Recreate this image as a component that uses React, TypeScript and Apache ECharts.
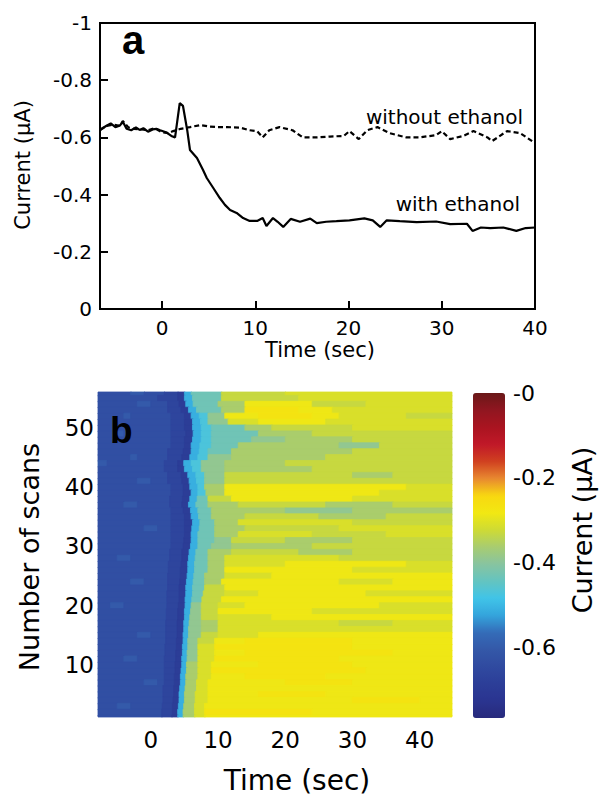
import React, { useEffect, useRef } from "react";
import * as echarts from "echarts";

// ---------- Panel a: current vs time ----------
const withEthanolTime = [
  -6.65, -6.0, -5.5, -5.0, -4.5, -4.2, -3.8, -3.3, -2.8, -2.4, -2.0, -1.5, -1.0, -0.6, -0.2, 0.5, 1.0, 1.4,
  1.9, 2.25, 2.7, 3.0, 3.75, 4.4, 4.8, 5.5, 6.2, 6.75, 7.3, 8.0, 8.7, 9.4, 10.2, 10.8, 11.2, 11.9, 12.4,
  13.0, 13.8, 14.8, 15.9, 16.6, 17.6, 18.7, 20.1, 21.7, 22.6, 23.4, 24.1, 25.5, 27.3, 29.4, 30.9, 32.7,
  33.3, 34.2, 35.2, 36.6, 38.0, 39.0, 40.0,
];
const withEthanolCurrent = [
  -0.626, -0.64, -0.649, -0.636, -0.642, -0.655, -0.63, -0.625, -0.635, -0.626, -0.632, -0.62, -0.628, -0.63,
  -0.625, -0.617, -0.605, -0.6, -0.72, -0.71, -0.626, -0.556, -0.528, -0.486, -0.458, -0.423, -0.388, -0.364,
  -0.346, -0.336, -0.318, -0.308, -0.308, -0.318, -0.29, -0.318, -0.305, -0.287, -0.315, -0.305, -0.316, -0.3,
  -0.305, -0.307, -0.31, -0.317, -0.31, -0.287, -0.31, -0.307, -0.304, -0.306, -0.297, -0.298, -0.273, -0.285,
  -0.283, -0.285, -0.273, -0.283, -0.285,
];
const withoutEthanolTime = [
  -6.65, -6.0, -5.2, -4.5, -4.2, -3.6, -3.0, -2.2, -1.5, -0.8, 0, 0.7, 1.2, 2.0, 3.0, 4.1, 5.1, 6.0, 7.0, 8.4,
  9.4, 10.2, 10.8, 11.5, 12.6, 14.0, 15.1, 16.6, 18.0, 19.5, 20.1, 21.1, 22.0, 23.1, 24.4, 26.2, 27.6, 29.4,
  30.0, 30.9, 32.3, 33.4, 34.9, 35.4, 37.0, 38.4, 39.7, 40,
];
const withoutEthanolCurrent = [
  -0.626, -0.64, -0.645, -0.64, -0.657, -0.635, -0.63, -0.628, -0.625, -0.632, -0.618, -0.615, -0.622, -0.63,
  -0.636, -0.643, -0.638, -0.636, -0.636, -0.634, -0.625, -0.622, -0.6, -0.625, -0.636, -0.625, -0.6, -0.6,
  -0.603, -0.605, -0.622, -0.594, -0.625, -0.636, -0.615, -0.6, -0.6, -0.608, -0.622, -0.594, -0.605, -0.622,
  -0.6, -0.587, -0.622, -0.615, -0.587, -0.59,
];
const topTimeTicks = [0, 10, 20, 30, 40];

// ---------- Panel b: scans heat map ----------
const heatTimeTicks = [0, 10, 20, 30, 40];
const scanTicks = [10, 20, 30, 40, 50];
const colorbarTicks = [-0.6, -0.4, -0.2, 0];

// current level (µA) of each colour code
const levelCodes: Record<string, number> = {
  "0": -0.69, "1": -0.66, "2": -0.63, "3": -0.6, "4": -0.56, "5": -0.51, "6": -0.47,
  "7": -0.43, "8": -0.39, "9": -0.36, a: -0.33, b: -0.31, c: -0.285, d: -0.27,
};

// each row = one scan, from scan 56 (top) to scan 1 (bottom); "code:endTime" runs
const scanRows = [
  "2:-3 3:-1 2:2 1:4 0:5 5:6 7:10.5 a:20 b:45",
  "2:1 1:4 0:5 5:6.2 7:10.5 a:22 b:45",
  "2:-2 3:0 2:2.5 1:4.2 0:5.2 5:6.3 7:10 9:14 c:24 a:32 b:45",
  "2:2.5 1:4.5 0:5.6 5:6.8 7:10.5 9:14 d:22 c:27 b:45",
  "2:-4 3:-3 2:3 1:5 0:6 5:7.2 6:8.5 8:11 c:16 d:24 c:28 b:38 a:45",
  "2:3 1:5 0:6.2 5:7.4 6:8.5 8:11.5 b:16 c:26 b:45",
  "2:3 1:5 0:6.2 5:7.5 6:9 7:14 9:18 a:30 b:45",
  "2:-5 3:-4 2:3 1:5.2 0:6.3 5:7.5 6:9 7:16 9:24 a:45",
  "2:3 1:5 0:6.2 5:7.5 6:9 7:15 8:20 9:30 a:45",
  "2:3 1:5 0:6 5:7.3 6:9 7:13 9:28 8:34 a:45",
  "2:2.5 1:4.8 0:6 5:7.2 6:8.5 7:12 9:30 a:45",
  "2:-3 3:-2 2:2.5 1:4.6 0:5.8 5:7 6:8.5 8:12 9:26 a:45",
  "3:-6.5 2:2 1:4 0:4.9 5:6 6:7.5 8:11 9:20 a:45",
  "2:2 1:4 0:5 5:6.2 6:7.5 8:11 9:24 a:45",
  "2:2.5 1:4.5 0:5.5 5:6.7 6:8 8:11 a:30 9:36 a:45",
  "2:-2 3:0 2:2.5 1:4.6 0:5.7 5:6.8 6:8 8:11 a:45",
  "2:3 1:4.8 0:5.8 5:7 6:8 9:11 c:38 b:45",
  "2:3 1:4.8 0:6 5:7 6:8.2 9:11 c:34 b:45",
  "2:2.8 1:4.7 0:5.8 5:6.9 7:8.5 a:12 c:30 b:45",
  "2:-4 3:-2 2:2.8 1:4.6 0:5.6 5:6.7 7:8.5 9:13 a:26 9:36 a:45",
  "2:3 1:4.8 0:5.9 5:7 7:9 9:20 8:30 9:45",
  "2:3 1:5 0:6 5:7.1 7:9 9:14 a:25 9:35 a:45",
  "2:3 1:5 0:6.2 5:7.3 7:9.5 9:13 b:30 a:45",
  "2:-1 3:1 2:3 1:5 0:6.1 5:7.2 7:9.5 9:14 a:28 b:45",
  "2:3 1:5 0:6 5:7 7:9.5 9:13 b:24 a:35 b:45",
  "2:3 1:4.9 0:6 5:7 7:9.5 8:12 a:20 9:30 a:45",
  "2:3 1:4.8 0:5.9 5:7 7:9 8:12 9:24 a:45",
  "2:2.8 1:4.6 0:5.7 5:6.7 7:8.5 9:12 a:22 9:30 a:45",
  "2:-5 3:-3 2:2.8 1:4.6 0:5.6 5:6.6 7:8.5 9:11 b:28 a:45",
  "2:2.6 1:4.5 0:5.5 5:6.5 7:8.5 9:11 b:20 c:38 b:45",
  "2:2.6 1:4.4 0:5.5 5:6.5 7:8.5 9:11 c:30 b:45",
  "2:2.5 1:4.4 0:5.4 5:6.4 7:8 9:11 b:18 c:45",
  "2:-3 3:-1 2:2.5 1:4.3 0:5.3 5:6.3 7:8 9:10.5 c:28 b:36 c:45",
  "2:2.5 1:4.2 0:5.2 5:6.2 7:8 a:11 c:45",
  "2:2.4 1:4.2 0:5.2 5:6.2 7:7.8 a:11 b:16 c:32 b:45",
  "2:2.4 1:4.2 0:5.1 5:6.1 7:7.6 a:10.5 c:45",
  "2:-6 3:-4 2:2.4 1:4.1 0:5.1 5:6 8:7.5 a:10 b:14 c:34 b:45",
  "2:2.3 1:4 0:5 5:5.9 8:7.5 a:10 c:24 b:45",
  "2:2.3 1:4 0:5 5:5.8 8:7.5 a:10 b:18 c:45",
  "2:2.2 1:3.9 0:4.9 5:5.7 8:7.5 9:10 b:28 a:36 b:45",
  "2:2.2 1:3.9 0:4.9 5:5.6 8:7.5 9:10 b:45",
  "2:-2 3:0 2:2.2 1:3.9 0:4.8 5:5.6 8:7.5 a:10 b:16 c:45",
  "2:2.2 1:3.8 0:4.8 5:5.5 8:7 a:9.5 c:14 d:30 c:45",
  "2:2.1 1:3.8 0:4.7 5:5.5 8:7 b:9.5 d:30 c:45",
  "2:2.1 1:3.7 0:4.7 5:5.4 8:7 b:9.5 c:14 d:36 c:45",
  "2:-4 3:-2 2:2 1:3.7 0:4.6 5:5.4 8:7 b:9.5 d:28 c:45",
  "2:2 1:3.6 0:4.6 5:5.3 9:7 b:9 c:16 d:30 c:45",
  "2:2 1:3.6 0:4.5 5:5.3 9:7 b:9 d:32 c:45",
  "2:2 1:3.5 0:4.4 5:5.2 9:7 b:9 c:14 d:26 c:45",
  "2:-1 3:1 2:2 1:3.5 0:4.4 5:5.2 9:6.8 b:8.5 c:20 d:30 c:45",
  "2:1.8 1:3.4 0:4.3 5:5.1 9:6.8 b:8.5 c:45",
  "2:1.8 1:3.4 0:4.2 5:5 9:6.6 b:8.5 c:16 d:26 c:45",
  "2:1.8 1:3.3 0:4.2 5:5 9:6.6 b:8.5 c:30 d:40 c:45",
  "2:-5 3:-3 2:1.7 1:3.2 0:4.1 5:4.9 9:6.5 b:8 c:45",
  "2:1.6 1:3.2 0:4 5:4.8 9:6.5 b:8 d:24 c:45",
  "2:1.6 1:3.1 0:4 5:4.8 9:6.5 b:8 c:45",
];
const heatStartTime = -7.85;

// colour scale from -0.765 (bottom) to 0 (top)
const colorScale = [
  "#282a7c", "#2a3490", "#2c3e98", "#304aa0", "#3458a8", "#346cb8", "#34a4dc", "#40c4e8",
  "#64c4c0", "#88c4a0", "#a8cc70", "#cedb34", "#f2e812", "#f8d810", "#e88830", "#d04020",
  "#c01828", "#aa1420", "#901620", "#6a1818",
];

const FONT = "DejaVu Sans";

function buildHeatData() {
  const out: number[][] = [];
  scanRows.forEach((row, i) => {
    const scan = scanRows.length - i;
    let start = heatStartTime;
    row.split(" ").forEach((tok) => {
      const [code, endStr] = tok.split(":");
      const end = parseFloat(endStr);
      out.push([start, end, scan, levelCodes[code]]);
      start = end;
    });
  });
  return out;
}

const fmtTop = (v: number) => {
  if (Math.abs(v) < 1e-9) return "0";
  if (Math.abs(v + 1) < 1e-9) return "-1";
  return v.toFixed(1);
};
const fmtBar = (v: number) => (Math.abs(v) < 1e-9 ? "-0" : v.toFixed(1));

export default function App() {
  const ref = useRef<HTMLDivElement>(null);
  useEffect(() => {
    if (!ref.current) return;
    const chart = echarts.init(ref.current, undefined, { renderer: "svg" });
    const heatData = buildHeatData();
    const black = "#000";
    const option: any = {
      animation: false,
      textStyle: { fontFamily: FONT, color: black },
      grid: [
        { left: 100, top: 23, width: 435, height: 286, show: true, borderColor: black, borderWidth: 2, backgroundColor: "transparent", outerBoundsMode: "none" },
        { left: 98, top: 392, width: 354, height: 325, outerBoundsMode: "none" },
        { left: 473, top: 393, width: 32, height: 325, outerBoundsMode: "none" },
      ],
      xAxis: [
        {
          gridIndex: 0, type: "value", min: -6.65, max: 40,
          splitLine: { show: false },
          axisLine: { show: true, onZero: false, lineStyle: { color: black, width: 2 } },
          axisTick: { show: true, inside: true, length: 8, customValues: topTimeTicks, lineStyle: { color: black, width: 2 } },
          axisLabel: { customValues: topTimeTicks, color: black, fontSize: 20, margin: 9, fontFamily: FONT },
        },
        {
          gridIndex: 1, type: "value", min: heatStartTime, max: 44.8,
          splitLine: { show: false }, axisLine: { show: false }, axisTick: { show: false },
          axisLabel: { customValues: heatTimeTicks, color: black, fontSize: 23, margin: 11, fontFamily: FONT },
        },
        { gridIndex: 2, type: "value", show: false, min: 0, max: 1 },
      ],
      yAxis: [
        {
          gridIndex: 0, type: "value", inverse: true, min: -1, max: 0, interval: 0.2,
          splitLine: { show: false },
          axisLine: { show: true, onZero: false, lineStyle: { color: black, width: 2 } },
          axisTick: { show: true, inside: true, length: 8, lineStyle: { color: black, width: 2 } },
          axisLabel: { formatter: fmtTop, color: black, fontSize: 20, margin: 8, fontFamily: FONT },
        },
        {
          gridIndex: 1, type: "value", min: 1.2, max: 56.07,
          splitLine: { show: false }, axisLine: { show: false }, axisTick: { show: false },
          axisLabel: { customValues: scanTicks, color: black, fontSize: 23, margin: 4, fontFamily: FONT },
        },
        {
          gridIndex: 2, type: "value", position: "right", min: -0.765, max: 0,
          splitLine: { show: false }, axisLine: { show: false }, axisTick: { show: false },
          axisLabel: { customValues: colorbarTicks, formatter: fmtBar, color: black, fontSize: 22, margin: 8, fontFamily: FONT },
        },
      ],
      visualMap: {
        type: "continuous", min: -0.765, max: 0, dimension: 3, seriesIndex: 2,
        show: true, calculable: false, hoverLink: false, orient: "vertical",
        left: 473, top: 393, itemWidth: 32, itemHeight: 325, padding: 0,
        inRange: { color: colorScale },
      },
      series: [
        {
          type: "line", name: "with ethanol", xAxisIndex: 0, yAxisIndex: 0,
          data: withEthanolTime.map((t, i) => [t, withEthanolCurrent[i]]),
          symbol: "none", lineStyle: { color: black, width: 2.2 }, z: 3,
        },
        {
          type: "line", name: "without ethanol", xAxisIndex: 0, yAxisIndex: 0,
          data: withoutEthanolTime.map((t, i) => [t, withoutEthanolCurrent[i]]),
          symbol: "none", lineStyle: { color: black, width: 2.2, type: [5, 3] }, z: 3,
        },
        {
          type: "custom", name: "scans", xAxisIndex: 1, yAxisIndex: 1,
          data: heatData, encode: { x: [0, 1], y: 2 },
          renderItem: (params: any, api: any) => {
            const p0 = api.coord([api.value(0), api.value(2) + 0.5]);
            const p1 = api.coord([api.value(1), api.value(2) - 0.5]);
            const cs = params.coordSys;
            const rect = echarts.graphic.clipRectByRect(
              { x: p0[0], y: p0[1], width: p1[0] - p0[0] + 0.8, height: p1[1] - p0[1] + 0.8 },
              { x: cs.x, y: cs.y, width: cs.width, height: cs.height }
            );
            if (!rect) return null;
            const color = api.visual("color");
            return { type: "rect", shape: rect, style: { fill: color, stroke: color, lineWidth: 0.8 } };
          },
        },
      ],
      graphic: [
        { type: "text", left: 122, top: 20, style: { text: "a", font: "bold 40px 'Liberation Sans'", fill: black } },
        { type: "text", x: 523, y: 117, style: { text: "without ethanol", fontFamily: FONT, fontSize: 20, fill: black, align: "right", verticalAlign: "middle" } },
        { type: "text", x: 520, y: 204, style: { text: "with ethanol", fontFamily: FONT, fontSize: 20, fill: black, align: "right", verticalAlign: "middle" } },
        { type: "text", x: 23, y: 165, rotation: Math.PI / 2, style: { text: "Current (μA)", fontFamily: FONT, fontSize: 21, fill: black, align: "center", verticalAlign: "middle" } },
        { type: "text", x: 320, y: 350, style: { text: "Time (sec)", fontFamily: FONT, fontSize: 21, fill: black, align: "center", verticalAlign: "middle" } },
        { type: "text", x: 110, y: 430, z: 10, style: { text: "b", font: "bold 37px 'Liberation Sans'", fill: black, verticalAlign: "middle" } },
        { type: "text", x: 29, y: 557, rotation: Math.PI / 2, style: { text: "Number of scans", fontFamily: FONT, fontSize: 27, fill: black, align: "center", verticalAlign: "middle" } },
        { type: "text", x: 297, y: 780, style: { text: "Time (sec)", fontFamily: FONT, fontSize: 28, fill: black, align: "center", verticalAlign: "middle" } },
        { type: "text", x: 582, y: 530, rotation: Math.PI / 2, style: { text: "Current (μA)", fontFamily: FONT, fontSize: 27, fill: black, align: "center", verticalAlign: "middle" } },
      ],
    };
    chart.setOption(option);
    return () => chart.dispose();
  }, []);
  return (
    <div
      ref={ref}
      style={{ position: "fixed", left: 0, top: 0, width: 600, height: 800, background: "#fff" }}
    />
  );
}
